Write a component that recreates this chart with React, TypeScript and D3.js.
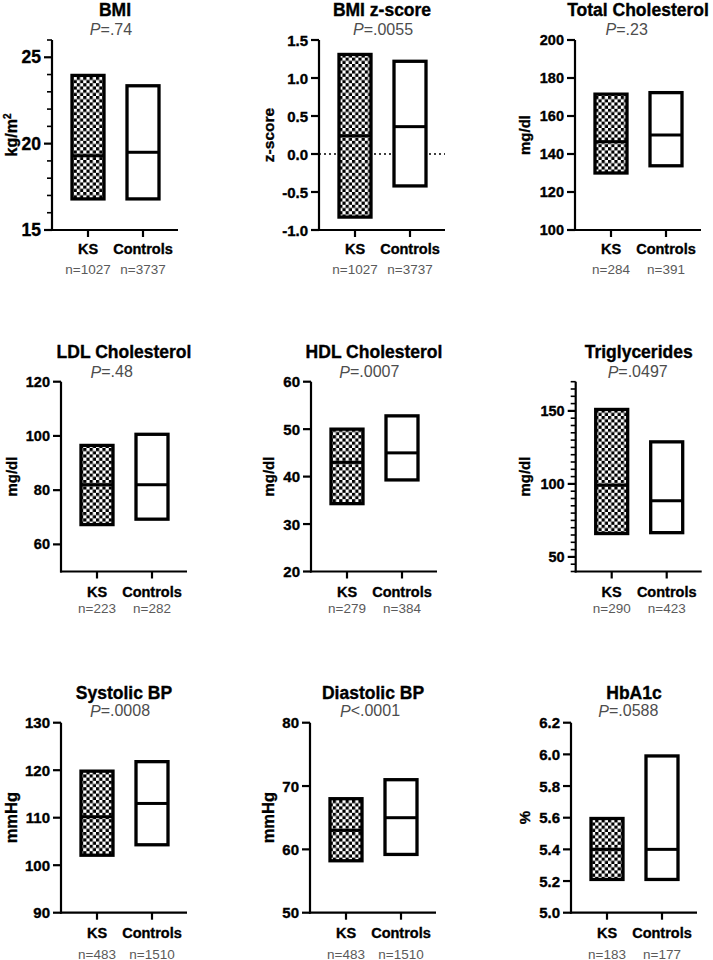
import React from "react";
import * as d3 from "d3";

const categories = ["KS", "Controls"];
const titles = ["BMI", "BMI z-score", "Total Cholesterol", "LDL Cholesterol", "HDL Cholesterol", "Triglycerides", "Systolic BP", "Diastolic BP", "HbA1c"];
const pOps = ["=", "=", "=", "=", "=", "=", "=", "<", "="];
const pValues = [".74", ".0055", ".23", ".48", ".0007", ".0497", ".0008", ".0001", ".0588"];
const yLabels = ["kg/m2", "z-score", "mg/dl", "mg/dl", "mg/dl", "mg/dl", "mmHg", "mmHg", "%"];
const yDomains = [[15, 26], [-1, 1.5], [100, 200], [50, 120], [20, 60], [40, 170], [90, 130], [50, 80], [5.0, 6.2]];
const majorTicks = [
  [15, 20, 25],
  [-1, -0.5, 0, 0.5, 1, 1.5],
  [100, 120, 140, 160, 180, 200],
  [60, 80, 100, 120],
  [20, 30, 40, 50, 60],
  [50, 100, 150],
  [90, 100, 110, 120, 130],
  [50, 60, 70, 80],
  [5.0, 5.2, 5.4, 5.6, 5.8, 6.0, 6.2],
];
const tickDecimals = [0, 1, 0, 0, 0, 0, 0, 0, 1];
const minorStep = [1, 0, 0, 0, 0, 5, 0, 0, 0];
// [low, median, high]
const ksValues = [
  [16.8, 19.3, 23.95],
  [-0.83, 0.24, 1.31],
  [130, 146.5, 171.5],
  [67.3, 82, 96.5],
  [34.3, 43, 50],
  [66, 99, 151],
  [102.1, 110.2, 119.8],
  [58.2, 63, 68],
  [5.21, 5.4, 5.595],
];
const ctrlValues = [
  [16.8, 19.5, 23.35],
  [-0.42, 0.36, 1.22],
  [133.8, 150, 172.3],
  [69.3, 82, 100.6],
  [39.3, 45, 52.8],
  [66.6, 88.4, 128.8],
  [104.3, 113, 121.8],
  [59.2, 65, 71],
  [5.21, 5.4, 5.99],
];
const ksN = ["1027", "1027", "284", "223", "279", "290", "483", "483", "183"];
const ctrlN = ["3737", "3737", "391", "282", "384", "423", "1510", "1510", "177"];

// layout
const axisLeft = [52, 319, 575, 61, 311, 575.7, 61, 310, 571];
const pOffset = [59, 64, 51.7, 50.7, 58.3, 62, 59, 60, 57.3];
const tickFont = [17.5, 15, 14.5, 14.5, 15, 14.5, 15, 15, 15];
const yLabelFont = [16, 15.5, 15, 15, 15, 15, 16.5, 16.5, 15];
const colLabelX = [11, 268.3, 524.5];
const rowTop = [40, 381.7, 722.7];
const rowBottom = [230, 571.5, 912.7];
const rowTitleY = [10, 351.7, 692.7];
const rowPY = [29, 371.7, 710.7];
const rowCatY = [249, 591.7, 932.7];
const rowNY = [269, 608.3, 954];
const AXIS_LEN = 126;
const FONT = "'Liberation Sans', Arial, Helvetica, sans-serif";

function fmt(v: number, dec: number) {
  return d3.format(`.${dec}f`)(v).replace("\u2212", "-");
}

function Panel({ i }: { i: number }) {
  const row = Math.floor(i / 3);
  const col = i % 3;
  const x0 = axisLeft[i];
  const top = rowTop[row];
  const bottom = rowBottom[row];
  const y = d3.scaleLinear().domain(yDomains[i]).range([bottom, top]);
  const x = d3.scalePoint<string>().domain(categories).range([x0 + 36, x0 + 91]);
  const minors: number[] = [];
  if (minorStep[i] > 0) {
    const [a, b] = yDomains[i];
    for (let v = a; v <= b + 1e-9; v += minorStep[i]) {
      if (!majorTicks[i].some((m) => Math.abs(m - v) < 1e-9)) minors.push(v);
    }
  }
  const boxW = 32;
  const groups = [ksValues[i], ctrlValues[i]];
  const nLabels = [ksN[i], ctrlN[i]];
  const midY = (top + bottom) / 2;
  const lx = colLabelX[col];
  const boldStroke = { stroke: "#000", strokeWidth: 0.35 };
  return (
    <g>
      <text x={x0 + AXIS_LEN / 2} y={rowTitleY[row]} textAnchor="middle" dominantBaseline="central" fontSize={17.5} fontWeight="bold" fill="#000" {...boldStroke}>
        {titles[i]}
      </text>
      <text x={x0 + pOffset[i]} y={rowPY[row]} textAnchor="middle" dominantBaseline="central" fontSize={16} fill="#4d4d4d">
        <tspan fontStyle="italic">P</tspan>
        {pOps[i] + pValues[i]}
      </text>
      <text transform={`translate(${lx},${midY}) rotate(-90)`} textAnchor="middle" dominantBaseline="central" fontSize={yLabelFont[i]} fontWeight="bold" {...boldStroke}>
        {yLabels[i] === "kg/m2" ? (
          <>
            kg/m<tspan dy={-4.5} fontSize={10}>2</tspan>
          </>
        ) : (
          yLabels[i]
        )}
      </text>
      {yDomains[i][0] < 0 && (
        <line x1={x0} x2={x0 + AXIS_LEN} y1={y(0)} y2={y(0)} stroke="#000" strokeWidth={1.5} strokeDasharray="2,3" />
      )}
      {groups.map((g, k) => {
        const cx = x(categories[k])!;
        return (
          <g key={k}>
            <rect x={cx - boxW / 2} y={y(g[2])} width={boxW} height={y(g[0]) - y(g[2])} fill={k === 0 ? "url(#checker)" : "#fff"} stroke="#000" strokeWidth={3.3} />
            <line x1={cx - boxW / 2} x2={cx + boxW / 2} y1={y(g[1])} y2={y(g[1])} stroke="#000" strokeWidth={3} />
          </g>
        );
      })}
      <line x1={x0} x2={x0} y1={top} y2={bottom + 1} stroke="#000" strokeWidth={2.2} />
      {majorTicks[i].map((t) => (
        <g key={t}>
          <line x1={x0 - 8} x2={x0} y1={y(t)} y2={y(t)} stroke="#000" strokeWidth={2.2} />
          <text x={x0 - 11} y={y(t)} textAnchor="end" dominantBaseline="central" fontSize={tickFont[i]} fontWeight="bold" {...boldStroke}>
            {fmt(t, tickDecimals[i])}
          </text>
        </g>
      ))}
      {minors.map((t) => (
        <line key={"m" + t} x1={x0 - 5} x2={x0} y1={y(t)} y2={y(t)} stroke="#000" strokeWidth={1.6} />
      ))}
      <line x1={x0 - 1} x2={x0 + AXIS_LEN} y1={bottom} y2={bottom} stroke="#000" strokeWidth={2.2} />
      {categories.map((c, k) => (
        <g key={c}>
          <line x1={x(c)!} x2={x(c)!} y1={bottom} y2={bottom + 7} stroke="#000" strokeWidth={2.2} />
          <text x={x(c)!} y={rowCatY[row]} textAnchor="middle" dominantBaseline="central" fontSize={14.5} fontWeight="bold" {...boldStroke}>
            {c}
          </text>
          <text x={x(c)!} y={rowNY[row]} textAnchor="middle" dominantBaseline="central" fontSize={13.5} fill="#5a5a5a">
            {"n=" + nLabels[k]}
          </text>
        </g>
      ))}
    </g>
  );
}

export default function App() {
  return (
    <svg width={713} height={960} style={{ position: "absolute", left: 0, top: 0, background: "#fff" }} fontFamily={FONT}>
      <defs>
        <pattern id="checker" width={6.4} height={6.4} patternUnits="userSpaceOnUse">
          <rect width={6.4} height={6.4} fill="#fff" />
          <rect width={3.2} height={3.2} fill="#000" />
          <rect x={3.2} y={3.2} width={3.2} height={3.2} fill="#000" />
        </pattern>
      </defs>
      <rect width={713} height={960} fill="#fff" />
      {titles.map((_, i) => (
        <Panel key={i} i={i} />
      ))}
    </svg>
  );
}
